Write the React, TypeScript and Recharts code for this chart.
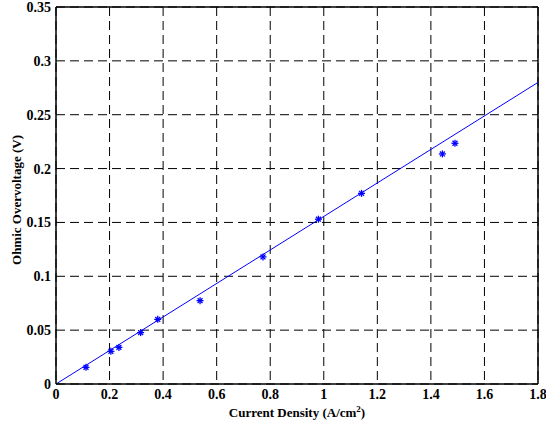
import { ComposedChart, Line, Scatter, XAxis, YAxis, CartesianGrid, ReferenceLine } from 'recharts';

// measured points (current density A/cm^2, overvoltage V)
const densityPts = [0.112, 0.205, 0.235, 0.316, 0.38, 0.538, 0.773, 0.98, 1.141, 1.443, 1.49];
const voltagePts = [0.0155, 0.0303, 0.034, 0.0477, 0.06, 0.0774, 0.118, 0.153, 0.177, 0.2136, 0.2235];

// linear fit endpoints
const fitX = [0, 1.8];
const fitY = [0, 0.28];

const xTicks = [0, 0.2, 0.4, 0.6, 0.8, 1, 1.2, 1.4, 1.6, 1.8];
const yTicks = [0, 0.05, 0.1, 0.15, 0.2, 0.25, 0.3, 0.35];

const points = densityPts.map((x, i) => ({ x, y: voltagePts[i] }));
const fit = fitX.map((x, i) => ({ x, y: fitY[i] }));

const font = "'Liberation Serif', 'Times New Roman', serif";
const BLUE = '#0000ff';

const Asterisk = (props: any) => {
    const { cx, cy } = props;
    const r = 3.5;
    return (
        <g stroke={BLUE} strokeWidth={1.3}>
            <line x1={cx - r} y1={cy} x2={cx + r} y2={cy} />
            <line x1={cx} y1={cy - r} x2={cx} y2={cy + r} />
            <line x1={cx - r * 0.7} y1={cy - r * 0.7} x2={cx + r * 0.7} y2={cy + r * 0.7} />
            <line x1={cx - r * 0.7} y1={cy + r * 0.7} x2={cx + r * 0.7} y2={cy - r * 0.7} />
        </g>
    );
};

const XLabel = () => (
    <text x={297} y={417} textAnchor="middle" fontFamily={font} fontSize={13} fontWeight={700} fill="#000">
        Current Density (A/cm<tspan dy={-5} fontSize={9}>2</tspan><tspan dy={5}>)</tspan>
    </text>
);

const YLabel = () => (
    <text x={21} y={200} textAnchor="middle" transform="rotate(-90 21 200)" fontFamily={font} fontSize={13} fontWeight={700} fill="#000">
        Ohmic Overvoltage (V)
    </text>
);

export default function App() {
    const tickStyle = { fill: '#000', fontSize: 14, fontWeight: 700, fontFamily: font };
    return (
        <div style={{ position: 'absolute', left: 0, top: 0, background: '#fff' }}>
            <ComposedChart width={546} height={432} margin={{ top: 7, right: 8, left: 0, bottom: 0 }}>
                <CartesianGrid stroke="#000" strokeDasharray="9 5" strokeWidth={1} />
                <XAxis
                    type="number"
                    dataKey="x"
                    domain={[0, 1.8]}
                    ticks={xTicks}
                    height={48}
                    tickSize={0}
                    tickMargin={5}
                    tick={tickStyle}
                    axisLine={{ stroke: '#000', strokeWidth: 1.5 }}
                    interval={0}
                    allowDataOverflow
                    label={{ content: () => <XLabel /> }}
                />
                <YAxis
                    type="number"
                    dataKey="y"
                    domain={[0, 0.35]}
                    ticks={yTicks}
                    width={56}
                    tickSize={0}
                    tickMargin={5}
                    tick={tickStyle}
                    axisLine={{ stroke: '#000', strokeWidth: 1.5 }}
                    interval={0}
                    allowDataOverflow
                    label={{ content: () => <YLabel /> }}
                />
                <ReferenceLine y={0.35} stroke="#000" strokeWidth={1.5} />
                <ReferenceLine x={1.8} stroke="#000" strokeWidth={1.5} />
                <Line data={fit} dataKey="y" stroke={BLUE} strokeWidth={1} dot={false} type="linear" isAnimationActive={false} />
                <Scatter data={points} dataKey="y" shape={<Asterisk />} isAnimationActive={false} />
            </ComposedChart>
        </div>
    );
}
